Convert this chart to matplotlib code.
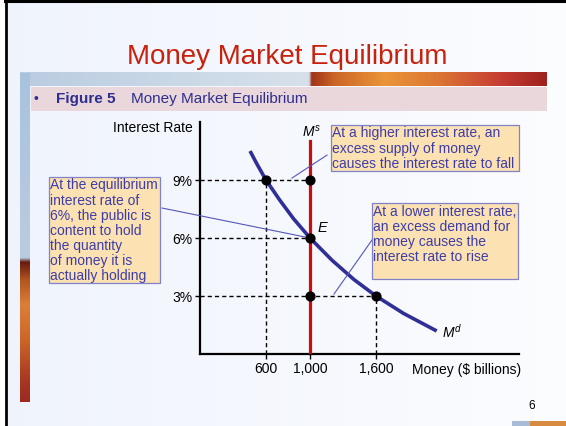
import numpy as np
import matplotlib
matplotlib.use("Agg")
import matplotlib.pyplot as plt
from matplotlib.patches import Rectangle

plt.rcParams['font.family'] = ['Liberation Sans', 'DejaVu Sans']
plt.rcParams['mathtext.fontset'] = 'custom'
plt.rcParams['mathtext.it'] = 'Liberation Sans:italic'
plt.rcParams['mathtext.rm'] = 'Liberation Sans'

# Data
demand_money = [455, 520, 600, 720, 850, 1000, 1200, 1400, 1600, 1850, 2152]
demand_rate = [10.5, 9.8, 9.0, 8.0, 7.0, 6.0, 4.85, 3.85, 3.0, 2.1, 1.19]
supply_money = 1000
supply_top = 11.0
tick_money = [600, 1000, 1600]
tick_money_labels = ['600', '1,000', '1,600']
tick_rates = [3, 6, 9]
tick_rate_labels = ['3%', '6%', '9%']
# points marked on the graph (money, rate)
dot_money = [600, 1000, 1000, 1000, 1600]
dot_rate = [9, 9, 6, 3, 3]
# dashed guide lines: horizontal (rate, money reached), vertical (money, rate reached)
guide_h = [(9, 1000), (6, 1000), (3, 1600)]
guide_v = [(600, 9), (1000, 9), (1600, 3)]

text_blue = '#3d3da8'
box_fill = '#fce1b3'
box_edge = '#8282c8'

fig = plt.figure(figsize=(5.66, 4.26), dpi=100)

# ---- slide background (pixel coordinates) ----
bg = fig.add_axes([0, 0, 1, 1])
bg.set_xlim(0, 566)
bg.set_ylim(426, 0)
bg.axis('off')

grad = np.linspace(0, 1, 200)
bg_cols = np.array([np.interp(grad, [0, 1], [c0, c1]) for c0, c1 in
                    zip((0.94, 0.956, 0.99), (0.985, 0.99, 1.0))]).T
bg.imshow(bg_cols[None, :, :], extent=(6, 566, 426, 2), aspect='auto', zorder=0)

# banner strip
bx = np.linspace(20, 547, 400)
stops_x = [20, 150, 300, 309, 312, 335, 385, 440, 500, 547]
stops_c = [(0.73, 0.80, 0.88), (0.78, 0.84, 0.90), (0.84, 0.88, 0.92), (0.84, 0.88, 0.92),
           (0.62, 0.20, 0.10), (0.80, 0.40, 0.15), (0.92, 0.58, 0.22), (0.86, 0.46, 0.20),
           (0.78, 0.24, 0.20), (0.62, 0.13, 0.12)]
banner = np.array([np.interp(bx, stops_x, [c[i] for c in stops_c]) for i in range(3)]).T
bg.imshow(banner[None, :, :], extent=(20, 547, 86, 72), aspect='auto', zorder=1)

# left vertical strip
sy = np.linspace(73, 402, 300)
ls_y = [73, 255, 258, 262, 280, 305, 340, 380, 402]
ls_c = [(0.66, 0.76, 0.87), (0.73, 0.80, 0.88), (0.72, 0.79, 0.87), (0.40, 0.10, 0.06),
        (0.70, 0.33, 0.12), (0.86, 0.50, 0.22), (0.80, 0.40, 0.16), (0.66, 0.22, 0.13),
        (0.62, 0.16, 0.13)]
strip = np.array([np.interp(sy, ls_y, [c[i] for c in ls_c]) for i in range(3)]).T
bg.imshow(strip[:, None, :], extent=(20, 30, 402, 73), aspect='auto', zorder=1)

bg.add_patch(Rectangle((31, 87), 516, 24, facecolor='#ead7dc', edgecolor='none', zorder=2))
bg.add_patch(Rectangle((530, 421), 36, 5, facecolor='#d88a40', edgecolor='none', zorder=2))
bg.add_patch(Rectangle((512, 421), 18, 5, facecolor='#a8bcd8', edgecolor='none', zorder=2))

# slide border
bg.plot([6, 6], [0, 426], color='black', lw=2, zorder=5)
bg.plot([5, 566], [1.2, 1.2], color='black', lw=2.2, zorder=5)

bg.text(287, 64, 'Money Market Equilibrium', fontsize=20, color='#c8220e',
        ha='center', va='baseline')
bg.text(34, 99, '\u2022', fontsize=10, color='#2e2e90', ha='left', va='center')
bg.text(56, 99, 'Figure 5', fontsize=11, color='#2e2e90', fontweight='bold',
        ha='left', va='center')
bg.text(131, 99, 'Money Market Equilibrium', fontsize=11, color='#2e2e90',
        ha='left', va='center')
bg.text(532, 406, '6', fontsize=8.5, color='black', ha='center', va='center')

# ---- chart ----
ax = fig.add_axes([200 / 566, 72 / 426, 319 / 566, 232 / 426])
ax.patch.set_alpha(0)
ax.set_xlim(0, 2900)
ax.set_ylim(0, 12)
for s in ['top', 'right']:
    ax.spines[s].set_visible(False)
for s in ['left', 'bottom']:
    ax.spines[s].set_linewidth(1.6)
ax.set_xticks(tick_money)
ax.set_xticklabels(tick_money_labels)
ax.set_yticks(tick_rates)
ax.set_yticklabels(tick_rate_labels)
ax.tick_params(length=3.5, width=1, labelsize=10, pad=2)

dash = (0, (3, 2.2))
for r, m in guide_h:
    ax.plot([0, m], [r, r], color='black', lw=1, linestyle=dash, zorder=2)
for m, r in guide_v:
    ax.plot([m, m], [0, r], color='black', lw=1, linestyle=dash, zorder=2)

ax.plot([supply_money, supply_money], [0, supply_top], color='#cc0c0c', lw=2.3, zorder=3)
ax.plot(demand_money, demand_rate, color='#2f2f96', lw=2.6, zorder=4,
        solid_capstyle='butt', solid_joinstyle='round')
ax.scatter(dot_money, dot_rate, s=40, color='black', zorder=5)

ax.text(927, 11.5, r'$M^s$', fontsize=10, ha='left', va='center')
ax.text(1073, 6.5, 'E', fontsize=10.5, style='italic', ha='left', va='center')
ax.text(2200, 1.15, r'$M^d$', fontsize=10, ha='left', va='center')

ax.text(-65, 11.7, 'Interest Rate', fontsize=10, ha='right', va='center')
ax.text(1927, -0.85, 'Money ($ billions)', fontsize=10, ha='left', va='center')

# annotation boxes (x0, y0, x1, y1 in data units) and their text
boxes = [
    ((1191, 9.47, 2900, 11.85),
     'At a higher interest rate, an\nexcess supply of money\ncauses the interest rate to fall'),
    ((1564, 3.88, 2891, 7.81),
     'At a lower interest rate,\nan excess demand for\nmoney causes the\ninterest rate to rise'),
    ((-1373, 3.67, -364, 9.16),
     'At the equilibrium\ninterest rate of\n6%, the public is\ncontent to hold\nthe quantity\nof money it is\nactually holding'),
]
for (x0, y0, x1, y1), txt in boxes:
    ax.add_patch(Rectangle((x0, y0), x1 - x0, y1 - y0, facecolor=box_fill,
                           edgecolor=box_edge, lw=0.9, zorder=6, clip_on=False))
    ax.text(x0 + 12, y1 - 0.08, txt, fontsize=10, color=text_blue, ha='left',
            va='top', linespacing=1.1, zorder=7, clip_on=False)

leaders = [((1155, 10.29), (836, 9.10)),
           ((1564, 5.90), (1218, 3.10)),
           ((-345, 7.55), (1000, 6.0))]
for (xa, ya), (xb, yb) in leaders:
    ax.plot([xa, xb], [ya, yb], color='#5656b8', lw=0.8, zorder=4, clip_on=False)

fig.savefig('out.png', dpi=100)
